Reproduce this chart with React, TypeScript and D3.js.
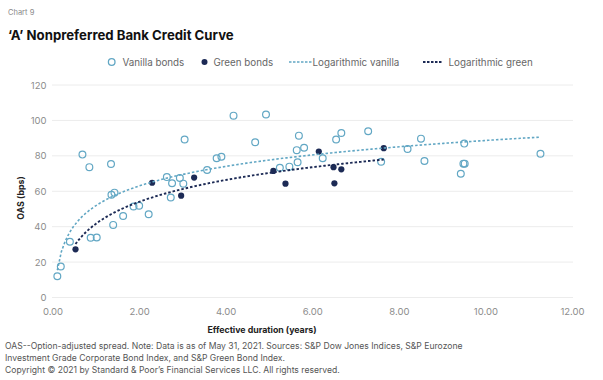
import React from "react";
import * as d3 from "d3";

const vanillaX = [0.10, 0.18, 0.39, 0.68, 0.84, 0.87, 1.01, 1.34, 1.35, 1.42, 1.39, 1.62, 1.86, 1.99, 2.21, 2.63, 2.75, 2.72, 2.93, 3.01, 3.04, 3.56, 3.78, 3.89, 4.17, 4.67, 4.92, 5.24, 5.46, 5.63, 5.68, 5.80, 5.65, 6.23, 6.54, 6.66, 7.28, 7.58, 8.19, 8.50, 8.58, 9.50, 9.48, 9.51, 9.42, 11.26];
const vanillaY = [12, 17.5, 31.5, 80.7, 73.6, 33.7, 33.9, 75.4, 58, 59.2, 41, 46, 51.4, 51.8, 47, 68, 64.5, 56.5, 67.5, 64.3, 89.2, 72, 78.6, 79.5, 102.7, 87.7, 103.3, 73.3, 73.9, 83.2, 91.4, 84.6, 76.4, 78.6, 89.2, 92.9, 93.9, 76.7, 83.9, 89.7, 77.1, 86.9, 75.6, 75.6, 69.9, 81.2];
const greenX = [0.52, 2.29, 2.96, 3.26, 5.09, 5.37, 6.14, 6.48, 6.66, 6.50, 7.64];
const greenY = [27.2, 64.8, 57.5, 67.7, 71.5, 64.3, 82.4, 73.6, 72.4, 64.5, 84.3];

const xTicks = [0, 2, 4, 6, 8, 10, 12];
const yTicks = [0, 20, 40, 60, 80, 100, 120];

const title = "\u2018A\u2019 Nonpreferred Bank Credit Curve";
const chartLabel = "Chart 9";
const xTitle = "Effective duration (years)";
const yTitle = "OAS (bps)";
const footnotes = [
  "OAS--Option-adjusted spread. Note: Data is as of May 31, 2021. Sources: S&P Dow Jones Indices, S&P Eurozone",
  "Investment Grade Corporate Bond Index, and S&P Green Bond Index.",
  "Copyright \u00A9 2021 by Standard & Poor\u2019s Financial Services LLC. All rights reserved.",
];

const VAN = "#62a7c4";
const GRN = "#1c2a55";
const FONT = "Inter, 'Open Sans', sans-serif";

function logFit(xs: number[], ys: number[]) {
  const lx = xs.map(Math.log);
  const mx = d3.mean(lx)!;
  const my = d3.mean(ys)!;
  let num = 0, den = 0;
  lx.forEach((l, i) => { num += (l - mx) * (ys[i] - my); den += (l - mx) * (l - mx); });
  const b = num / den;
  const a = my - b * mx;
  return { a, b };
}

function trend(xs: number[], ys: number[]) {
  const { a, b } = logFit(xs, ys);
  const [lo, hi] = d3.extent(xs) as [number, number];
  const n = 120;
  return d3.range(n + 1).map((i) => {
    const x = lo + ((hi - lo) * i) / n;
    return [x, a + b * Math.log(x)] as [number, number];
  });
}

export default function App() {
  const x = d3.scaleLinear().domain([0, 12]).range([53, 572.5]);
  const y = d3.scaleLinear().domain([0, 120]).range([297.5, 85]);
  const line = d3.line<[number, number]>().x((d) => x(d[0])).y((d) => y(d[1]));
  const vTrend = trend(vanillaX, vanillaY);
  const gTrend = trend(greenX, greenY);

  return (
    <svg width={603} height={380} style={{ position: "absolute", left: 0, top: 0, background: "#fff" }} fontFamily={FONT}>
      <text x={8} y={15} fontSize={7.5} fill="#8a8a8a">{chartLabel}</text>
      <text x={8} y={39.5} fontSize={13.2} fontWeight={700} fill="#111">{title}</text>

      {/* legend */}
      <g fontSize={9.8} fill="#666">
        <circle cx={111.7} cy={62} r={3.3} fill="none" stroke={VAN} strokeWidth={1.3} />
        <text x={122.5} y={65.5}>Vanilla bonds</text>
        <circle cx={204.5} cy={62} r={3} fill={GRN} />
        <text x={213.5} y={65.5}>Green bonds</text>
        <line x1={289} x2={311.5} y1={62} y2={62} stroke={VAN} strokeWidth={1.5} strokeDasharray="2.5,1.5" />
        <text x={312.5} y={65.5}>Logarithmic vanilla</text>
        <line x1={423} x2={442} y1={62} y2={62} stroke={GRN} strokeWidth={1.8} strokeDasharray="2.5,1.5" />
        <text x={448.5} y={65.5}>Logarithmic green</text>
      </g>

      {/* grid */}
      {yTicks.map((t) => (
        <g key={t}>
          <line x1={52} x2={573} y1={y(t)} y2={y(t)} stroke="#ececec" strokeWidth={1} />
          <text x={46.5} y={y(t) + 3.5} fontSize={9.5} textAnchor="end" fill="#8c8c8c">{t}</text>
        </g>
      ))}
      {xTicks.map((t) => (
        <text key={t} x={x(t)} y={314.5} fontSize={9.5} textAnchor="middle" fill="#8c8c8c">{t.toFixed(2)}</text>
      ))}

      <text x={262} y={332.5} fontSize={8.8} fontWeight={700} textAnchor="middle" fill="#222">{xTitle}</text>
      <text transform="translate(24,198) rotate(-90)" fontSize={8.8} fontWeight={700} textAnchor="middle" fill="#222">{yTitle}</text>

      {/* points */}
      {vanillaX.map((vx, i) => (
        <circle key={"v" + i} cx={x(vx)} cy={y(vanillaY[i])} r={3.4} fill="none" stroke={VAN} strokeWidth={1.2} />
      ))}
      {greenX.map((gx, i) => (
        <circle key={"g" + i} cx={x(gx)} cy={y(greenY[i])} r={3.1} fill={GRN} />
      ))}

      {/* trends */}
      <path d={line(vTrend) || ""} fill="none" stroke={VAN} strokeWidth={1.6} strokeDasharray="2.5,2" />
      <path d={line(gTrend) || ""} fill="none" stroke={GRN} strokeWidth={1.9} strokeDasharray="2.5,2" />

      {/* footnotes */}
      <g fontSize={8.6} fill="#555">
        {footnotes.map((f, i) => (
          <text key={i} x={5} y={348.5 + i * 12}>{f}</text>
        ))}
      </g>
    </svg>
  );
}
